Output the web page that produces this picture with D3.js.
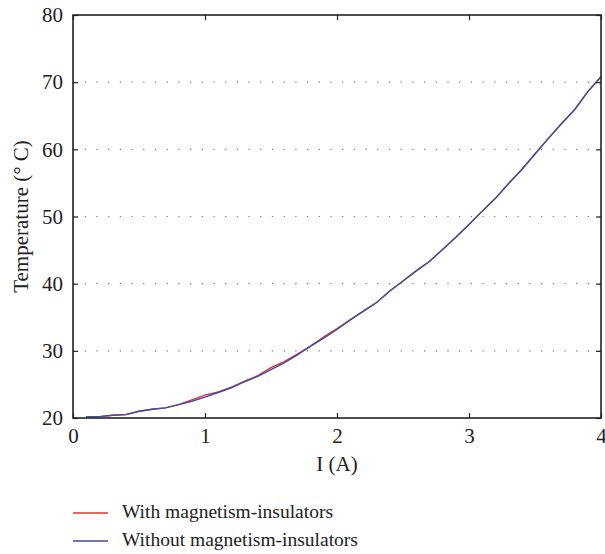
<!DOCTYPE html>
<html>
<head>
<meta charset="utf-8">
<script src="https://cdn.jsdelivr.net/npm/d3@7"></script>
<style>
  body { margin: 0; background: #fff; }
</style>
</head>
<body>
<svg width="605" height="554"></svg>
<script>
// current values (A)
var current = [0.1,0.2,0.3,0.4,0.5,0.6,0.7,0.8,0.9,1.0,
               1.1,1.2,1.3,1.4,1.5,1.6,1.7,1.8,1.9,2.0,
               2.1,2.2,2.3,2.4,2.5,2.6,2.7,2.8,2.9,3.0,
               3.1,3.2,3.3,3.4,3.5,3.6,3.7,3.8,3.9,4.0];
// temperature with magnetism-insulators
var withIns = [20.2,20.2,20.4,20.5,21.0,21.3,21.5,22.0,22.7,23.4,
               23.9,24.6,25.5,26.3,27.5,28.4,29.5,30.7,32.1,33.3,
               34.6,35.9,37.2,38.9,40.4,41.9,43.3,45.1,46.9,48.8,
               50.8,52.7,54.9,57.0,59.3,61.6,63.8,65.9,68.6,70.8];
// temperature without magnetism-insulators
var withoutIns = [20.2,20.2,20.4,20.5,21.0,21.3,21.5,22.0,22.5,23.1,
                  23.8,24.5,25.4,26.2,27.2,28.2,29.4,30.7,31.9,33.2,
                  34.6,35.9,37.2,38.9,40.4,41.9,43.3,45.1,46.9,48.8,
                  50.8,52.7,54.9,57.0,59.3,61.6,63.8,65.9,68.6,70.8];
var xTicks = [0,1,2,3,4];
var yTicks = [20,30,40,50,60,70,80];
var gridTicks = [30,40,50,60,70];
var seriesNames = ["With magnetism-insulators", "Without magnetism-insulators"];
var seriesColors = ["#e8302c", "#3b4ea6"];

var FONT = "'Liberation Serif', 'Times New Roman', Times, 'DejaVu Serif', serif";

var svg = d3.select("svg"),
    margin = {top: 15, right: 4, bottom: 136, left: 73},
    width = +svg.attr("width") - margin.left - margin.right,
    height = +svg.attr("height") - margin.top - margin.bottom;

var x = d3.scaleLinear().domain([0, 4]).range([0, width]);
var y = d3.scaleLinear().domain([20, 80]).range([height, 0]);

var g = svg.append("g")
    .attr("transform", "translate(" + margin.left + "," + margin.top + ")");

// dotted grid
g.selectAll(".grid")
  .data(gridTicks)
  .enter().append("line")
    .attr("x1", 0).attr("x2", width)
    .attr("y1", function(d) { return y(d); })
    .attr("y2", function(d) { return y(d); })
    .attr("stroke", "#777")
    .attr("stroke-width", 1.2)
    .attr("stroke-dasharray", "1.2,10.5");

// lines
var line = d3.line()
    .x(function(d, i) { return x(current[i]); })
    .y(function(d) { return y(d); });

[withIns, withoutIns].forEach(function(s, k) {
  g.append("path")
    .datum(s)
    .attr("fill", "none")
    .attr("stroke", seriesColors[k])
    .attr("stroke-width", 1.4)
    .attr("d", line);
});

// axes: ticks inside
function styleAxis(sel) {
  sel.attr("font-family", null);
  sel.select(".domain").remove();
  sel.selectAll(".tick line").attr("stroke", "#222").attr("stroke-width", 1.2);
  sel.selectAll(".tick text")
    .style("font-family", FONT)
    .style("font-size", "21px")
    .attr("fill", "#222");
}

g.append("g")
  .attr("transform", "translate(0," + height + ")")
  .call(d3.axisBottom(x).tickValues(xTicks).tickFormat(d3.format("d")).tickSizeInner(-5).tickPadding(10))
  .call(styleAxis);

g.append("g")
  .call(d3.axisTop(x).tickValues(xTicks).tickFormat("").tickSizeInner(-5))
  .call(styleAxis);

g.append("g")
  .call(d3.axisLeft(y).tickValues(yTicks).tickFormat(d3.format("d")).tickSizeInner(-5).tickPadding(10))
  .call(styleAxis);

g.append("g")
  .attr("transform", "translate(" + width + ",0)")
  .call(d3.axisRight(y).tickValues(yTicks).tickFormat("").tickSizeInner(-5))
  .call(styleAxis);

// frame
g.append("rect")
  .attr("width", width).attr("height", height)
  .attr("fill", "none")
  .attr("stroke", "#222")
  .attr("stroke-width", 1.6);

// axis labels
svg.append("text")
  .attr("x", margin.left + width / 2)
  .attr("y", 471)
  .attr("text-anchor", "middle")
  .style("font-family", FONT)
  .style("font-size", "21px")
  .attr("fill", "#222")
  .text("I (A)");

svg.append("text")
  .attr("transform", "translate(28," + (margin.top + height / 2) + ") rotate(-90)")
  .attr("text-anchor", "middle")
  .style("font-family", FONT)
  .style("font-size", "21px")
  .attr("fill", "#222")
  .text("Temperature (° C)");

// legend
var legend = svg.append("g").attr("transform", "translate(73,513)");
seriesNames.forEach(function(name, k) {
  legend.append("line")
    .attr("x1", 0).attr("x2", 35)
    .attr("y1", k * 28).attr("y2", k * 28)
    .attr("stroke", seriesColors[k])
    .attr("stroke-width", 1.4);
  legend.append("text")
    .attr("x", 49)
    .attr("y", k * 28 + 5)
    .style("font-family", FONT)
    .style("font-size", "19.5px")
    .attr("fill", "#222")
    .text(name);
});
</script>
</body>
</html>
